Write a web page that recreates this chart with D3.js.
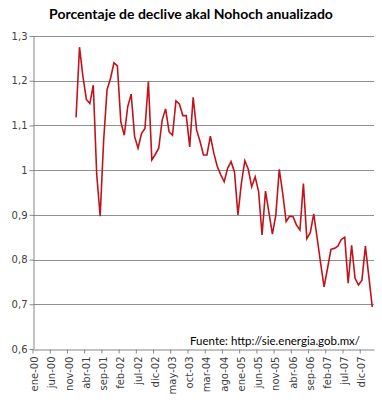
<!DOCTYPE html>
<html>
<head>
<meta charset="utf-8">
<script src="https://cdn.jsdelivr.net/npm/d3@7"></script>
<style>
  body { margin: 0; background: #fff; }
  svg { display: block; }
</style>
</head>
<body>
<div id="chart"></div>
<script>
// Months of the category axis (ene-00 .. mar-08)
const monthNames = ["ene", "feb", "mar", "abr", "may", "jun", "jul", "ago", "sep", "oct", "nov", "dic"];
const years = ["00", "01", "02", "03", "04", "05", "06", "07", "08"];
const lastMonthOf2008 = 3;

// Series starts at ene-01
const seriesStart = "ene-01";
const values = [
    1.118, 1.275, 1.209, 1.158, 1.149, 1.19, 0.99, 0.897, 1.065, 1.18, 1.205, 1.240,
    1.233, 1.108, 1.078, 1.142, 1.170, 1.075, 1.049, 1.082, 1.093, 1.198, 1.023, 1.035,
    1.049, 1.112, 1.137, 1.086, 1.078, 1.155, 1.148, 1.122, 1.122, 1.052, 1.163, 1.09,
    1.064, 1.034, 1.034, 1.076, 1.038, 1.008, 0.99, 0.974, 1.004, 1.019, 0.996, 0.90,
    0.971, 1.021, 1.002, 0.963, 0.985, 0.952, 0.855, 0.953, 0.905, 0.857, 0.90, 1.002,
    0.948, 0.885, 0.897, 0.896, 0.877, 0.866, 0.97, 0.847, 0.86, 0.902, 0.848, 0.792,
    0.739, 0.78, 0.823, 0.825, 0.830, 0.845, 0.850, 0.747, 0.832, 0.758, 0.743, 0.754,
    0.830, 0.762, 0.694
];

const yTicks = [0.6, 0.7, 0.8, 0.9, 1.0, 1.1, 1.2, 1.3];
const title = "Porcentaje de declive akal Nohoch anualizado";
const source = "Fuente: http://sie.energia.gob.mx/";

// Build categories
const categories = [];
years.forEach(y => {
    monthNames.forEach((m, i) => {
        if (y === "08" && i >= lastMonthOf2008) return;
        categories.push(m + "-" + y);
    });
});
const startIdx = categories.indexOf(seriesStart);
const data = values.map((v, i) => ({ cat: categories[startIdx + i], value: v }));

// Dimensions
const width = 382;
const height = 400;
const margin = { top: 36, right: 8, bottom: 51, left: 33 };

const svg = d3.select("#chart")
    .append("svg")
    .attr("width", width)
    .attr("height", height);

const x = d3.scaleBand()
    .domain(categories)
    .range([margin.left, width - margin.right])
    .padding(0);

const y = d3.scaleLinear()
    .domain([0.6, 1.3])
    .range([height - margin.bottom, margin.top]);

const bw = x.bandwidth();
const fmt = v => String(Math.round(v * 10) / 10).replace(".", ",");

// Title
svg.append("text")
    .attr("x", 191)
    .attr("y", 19)
    .attr("text-anchor", "middle")
    .style("font-family", "Lato, 'Open Sans', sans-serif")
    .style("font-weight", "bold")
    .style("font-size", "14px")
    .style("fill", "#000")
    .text(title);

// Gridlines
svg.append("g")
    .selectAll("line")
    .data(yTicks.slice(1))
    .enter()
    .append("line")
    .attr("x1", margin.left)
    .attr("x2", width - margin.right)
    .attr("y1", d => Math.round(y(d)) + 0.5)
    .attr("y2", d => Math.round(y(d)) + 0.5)
    .attr("stroke", "#8f8f8f")
    .attr("stroke-width", 1);

// Y axis
const yAxis = svg.append("g")
    .attr("transform", `translate(${margin.left + 0.5},0)`)
    .call(d3.axisLeft(y).tickValues(yTicks).tickFormat(fmt).tickSize(4).tickSizeOuter(0));
yAxis.select(".domain").attr("stroke", "#868686");
yAxis.selectAll(".tick line").attr("stroke", "#868686");
yAxis.selectAll(".tick text")
    .attr("x", -6)
    .style("font-family", "'DejaVu Sans', sans-serif")
    .style("font-size", "10px")
    .style("fill", "#404040");

// X axis
const xTickCats = categories.filter((c, i) => i % 5 === 0);
const xAxis = svg.append("g")
    .attr("transform", `translate(0,${Math.round(y(0.6)) + 0.5})`)
    .call(d3.axisBottom(x).tickValues(xTickCats).tickSize(4).tickSizeOuter(0));
xAxis.select(".domain").attr("stroke", "#868686");
xAxis.selectAll(".tick line")
    .attr("stroke", "#868686")
    .attr("transform", `translate(${-bw / 2},0)`);
xAxis.selectAll(".tick text")
    .attr("transform", "rotate(-90)")
    .attr("x", -7)
    .attr("y", 0)
    .attr("dy", "0.35em")
    .style("text-anchor", "end")
    .style("font-family", "'DejaVu Sans', sans-serif")
    .style("font-size", "10px")
    .style("fill", "#404040");

// Line
const line = d3.line()
    .x(d => x(d.cat) + bw / 2)
    .y(d => y(d.value));

svg.append("path")
    .datum(data)
    .attr("d", line)
    .attr("fill", "none")
    .attr("stroke", "#c0141c")
    .attr("stroke-width", 1.6)
    .attr("stroke-linejoin", "miter");

// Source note
svg.append("text")
    .attr("x", 190)
    .attr("y", 345)
    .style("font-family", "Lato, 'Open Sans', sans-serif")
    .style("font-size", "11.5px")
    .style("fill", "#000")
    .text(source);
</script>
</body>
</html>
